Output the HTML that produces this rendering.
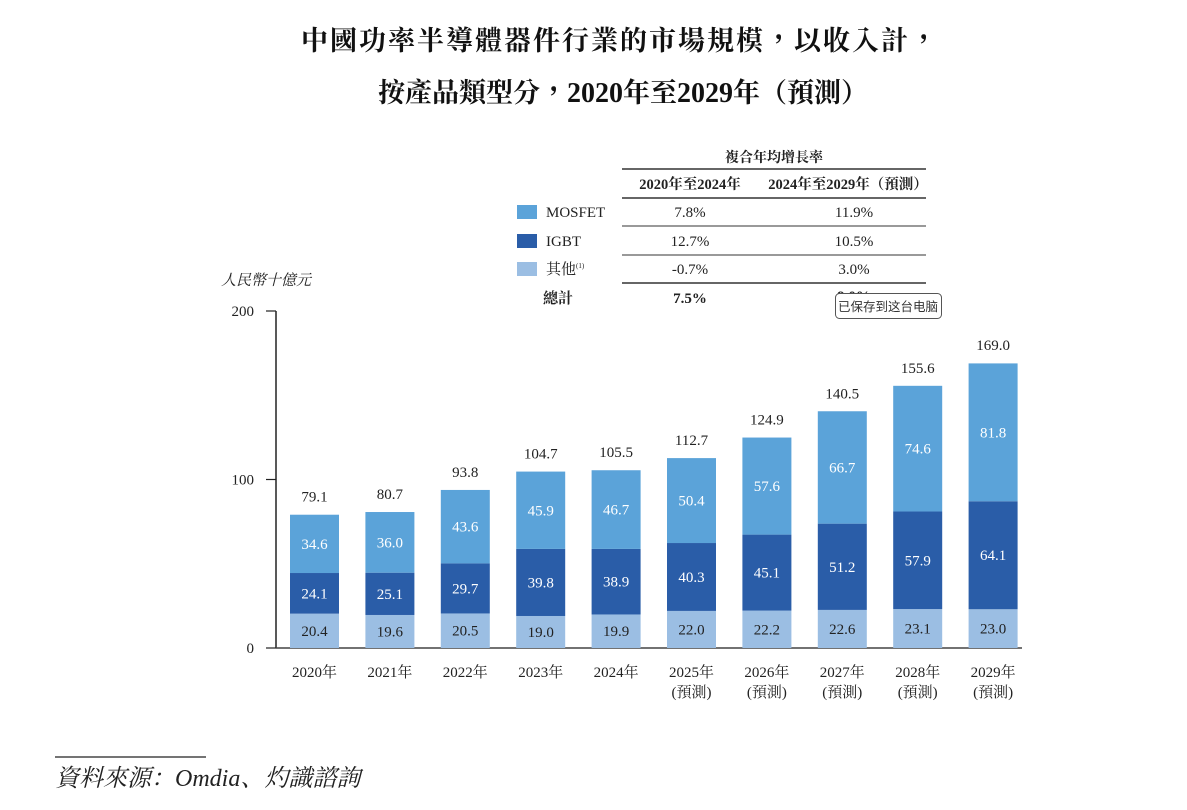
<!DOCTYPE html>
<html><head><meta charset="utf-8"><style>
body{margin:0;background:#fff;}
svg{display:block;}
.s{font-family:"Liberation Serif","Noto Serif CJK SC",serif;}
.t{font-family:"Noto Serif CJK TC","Noto Serif CJK SC",serif;}
.t tspan.n{font-family:"Liberation Serif",serif;}
</style></head><body>
<svg id="c" width="1187" height="810" xmlns="http://www.w3.org/2000/svg">
<g class="t" font-weight="bold" font-size="27" fill="#111" text-anchor="middle">
<text x="620" y="50" letter-spacing="2">中國功率半導體器件行業的市場規模，以收入計，</text>
<text x="623" y="102">按產品類型分，<tspan class="n" font-size="28">2020</tspan>年至<tspan class="n" font-size="28">2029</tspan>年（預測）</text>
</g>
<g id="table" class="s" font-size="15" fill="#222">
<text x="774" y="162" text-anchor="middle" font-weight="bold" font-size="14">複合年均增長率</text>
<line x1="622" x2="926" y1="169" y2="169" stroke="#333" stroke-width="1.5"/>
<text x="690" y="189" text-anchor="middle" font-weight="bold" font-size="14.5">2020年至2024年</text>
<text x="848" y="189" text-anchor="middle" font-weight="bold" font-size="14.5">2024年至2029年（預測）</text>
<line x1="622" x2="926" y1="198" y2="198" stroke="#333" stroke-width="1.5"/>
<rect x="517" y="205" width="20" height="14" fill="#5BA3D9"/>
<text x="546" y="217">MOSFET</text>
<text x="690" y="217" text-anchor="middle">7.8%</text><text x="854" y="217" text-anchor="middle">11.9%</text>
<line x1="622" x2="926" y1="226" y2="226" stroke="#333"/>
<rect x="517" y="234" width="20" height="14" fill="#2A5DA8"/>
<text x="546" y="246">IGBT</text>
<text x="690" y="246" text-anchor="middle">12.7%</text><text x="854" y="246" text-anchor="middle">10.5%</text>
<line x1="622" x2="926" y1="255" y2="255" stroke="#333"/>
<rect x="517" y="262" width="20" height="14" fill="#9BBEE3"/>
<text x="546" y="274">其他<tspan font-size="7" dy="-6">(1)</tspan></text>
<text x="690" y="274" text-anchor="middle">-0.7%</text><text x="854" y="274" text-anchor="middle">3.0%</text>
<line x1="622" x2="926" y1="283" y2="283" stroke="#333" stroke-width="1.5"/>
<text x="543" y="303" font-weight="bold">總計</text>
<text x="690" y="303" text-anchor="middle" font-weight="bold">7.5%</text>
<text x="854" y="301" text-anchor="middle" font-weight="bold">9.0%</text>
</g>
<g>
<rect x="835.5" y="293.5" width="106" height="25" rx="4" fill="#fff" stroke="#555"/>
<text x="888" y="311" text-anchor="middle" font-size="12.5" fill="#333" font-family="'Noto Sans CJK SC',sans-serif">已保存到这台电脑</text>
</g>
<text class="s" x="221" y="285" font-size="15" font-style="italic" fill="#222">人民幣十億元</text>
<g id="plot"></g>
<line x1="55" x2="206" y1="757" y2="757" stroke="#222" stroke-width="1.2"/>
<text class="s" x="55" y="786" font-size="24" font-style="italic" fill="#222">資料來源：Omdia、灼識諮詢</text>
</svg>
<script>
const years=["2020年","2021年","2022年","2023年","2024年","2025年","2026年","2027年","2028年","2029年"];
const forecast=[false,false,false,false,false,true,true,true,true,true];
const others=[20.4,19.6,20.5,19.0,19.9,22.0,22.2,22.6,23.1,23.0];
const igbt=[24.1,25.1,29.7,39.8,38.9,40.3,45.1,51.2,57.9,64.1];
const mosfet=[34.6,36.0,43.6,45.9,46.7,50.4,57.6,66.7,74.6,81.8];
const totals=[79.1,80.7,93.8,104.7,105.5,112.7,124.9,140.5,155.6,169.0];
const yTicks=[0,100,200];
const NS="http://www.w3.org/2000/svg";
const g=document.getElementById('plot');
const y=v=>648-v*1.685;
const x=i=>314.5+i*75.4;
const bw=49;
function mk(t,a,txt){const e=document.createElementNS(NS,t);for(const k in a)e.setAttribute(k,a[k]);if(txt!=null)e.textContent=txt;g.appendChild(e);return e;}
const ax=mk('line',{x1:276,x2:276,y1:y(200),y2:y(0),stroke:'#222','stroke-width':1.5});


const xa=mk('line',{x1:276,x2:1022,y1:y(0),y2:y(0),stroke:'#444','stroke-width':1.5});


yTicks.forEach(t=>{
 mk('line',{x1:266,x2:276,y1:y(t),y2:y(t),stroke:'#222','stroke-width':1.2});
 const l=mk('text',{x:254,y:y(t)+5,'text-anchor':'end','font-size':15,fill:'#222',class:'s'},t);
 
 
});
const series=[[others,'#9BBEE3','#222','others'],[igbt,'#2A5DA8','#fff','igbt'],[mosfet,'#5BA3D9','#fff','mosfet']];
years.forEach((yr,i)=>{
 let base=0;
 series.forEach(([arr,col,tc,nm])=>{
  const v=arr[i];
  const r=mk('rect',{x:x(i)-bw/2,y:y(base+v),width:bw,height:y(base)-y(base+v),fill:col});
  
  
  const t=mk('text',{x:x(i),y:(y(base)+y(base+v))/2+5,'text-anchor':'middle','font-size':15,fill:tc,class:'s'},v.toFixed(1));
  
  
  base+=v;
 });
 const tt=mk('text',{x:x(i),y:y(totals[i])-13,'text-anchor':'middle','font-size':15,fill:'#222',class:'s'},totals[i].toFixed(1));
 
 
 const xl=mk('text',{x:x(i),y:677,'text-anchor':'middle','font-size':15,fill:'#222',class:'s'},yr);
 
 
 if(forecast[i]){
  const fl=mk('text',{x:x(i),y:697,'text-anchor':'middle','font-size':15,fill:'#222',class:'s'},'(預測)');
  
  
 }
});
</script>
</body></html>
